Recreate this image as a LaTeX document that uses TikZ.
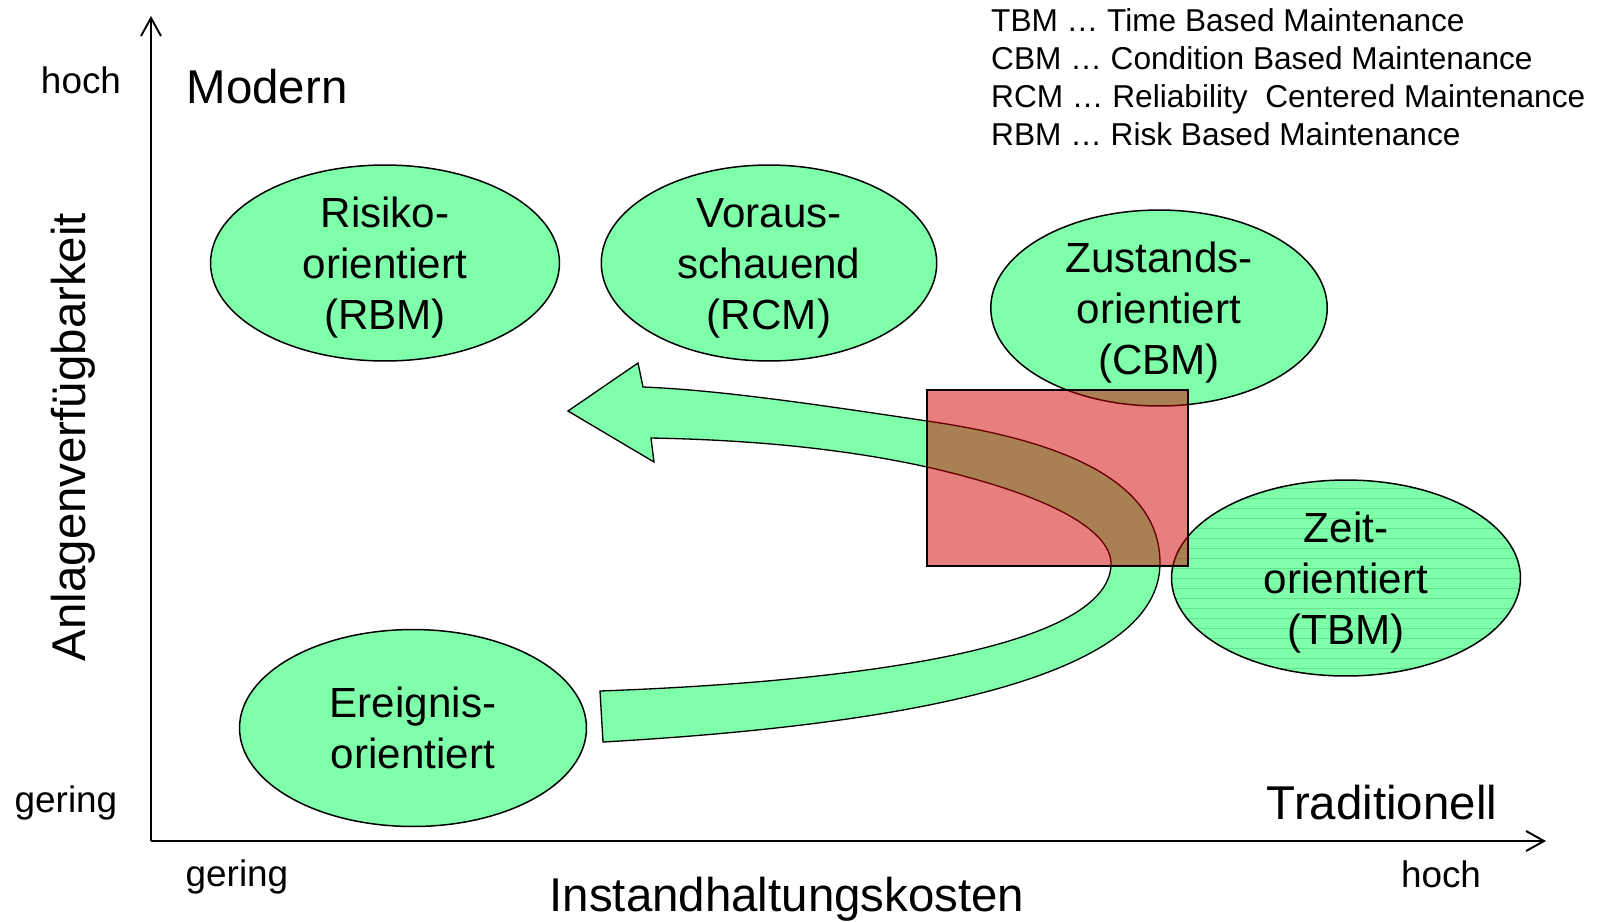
\documentclass[tikz,border=0pt]{standalone}
\usepackage{fontspec}
\setmainfont{Liberation Sans}
\usetikzlibrary{arrows.meta,positioning,shapes.geometric}
\definecolor{mint}{HTML}{80FFAA}
\definecolor{mintd}{HTML}{5EE68C}
\definecolor{alarm}{HTML}{D20000}
\tikzset{
  ell/.style={ellipse,draw=black,line width=0.85pt,fill=mint,inner sep=0pt,minimum height=3.92cm},
  etxt/.style={align=center,font=\fontsize{24}{29}\selectfont},
  etxtlow/.style={etxt,yshift=-0.1cm},
  big/.style={font=\fontsize{27}{32}\selectfont,anchor=base},
  tick/.style={font=\fontsize{21}{25}\selectfont,anchor=base},
  leg/.style={font=\fontsize{18}{22}\selectfont,anchor=base west},
  axis/.style={line width=1.1pt,-{Straight Barb[length=3.6mm,width=4mm,line width=1.1pt]}},
  zone/.style={draw=black,line width=1pt,fill=alarm,fill opacity=0.5},
  flow/.style={draw=black,line width=0.75pt,fill=mint},
  stripes/.style={path picture={
    \foreach \k in {-10,...,10}
      \draw[mintd,line width=0.5pt] ([yshift=\k*2mm]path picture bounding box.west) -- ([yshift=\k*2mm]path picture bounding box.east);}},
}

\begin{document}
\begin{tikzpicture}[x=0.02cm,y=-0.02cm]
  \useasboundingbox (0,0) rectangle (1599,921);
  % axes
  \coordinate (o) at (151,841);
  \coordinate (ytop) at (151,16);
  \coordinate (xend) at (1546,841);
  \draw[axis] (o) -- (ytop);
  \draw[axis] (o) -- (xend);
  \node[tick] (yhi) at (81,93) {hoch};
  \node[tick] (ylo) at (66,812) {gering};
  \node[tick] (xlo) at (237,886) {gering};
  \node[tick] (xhi) at (1441,887) {hoch};
  \node[big] (modern) at (267,103) {Modern};
  \node[big] (trad) at (1382,819) {Traditionell};
  \node[big] (xlab) at (787,911) {Instandhaltungskosten};
  \node[big,rotate=90] (ylab) at (85,437) {Anlagenverfügbarkeit};
  % legend
  \foreach \t [count=\i from 0] in {TBM … Time Based Maintenance,CBM … Condition Based Maintenance,RCM … Reliability\ \ Centered Maintenance,RBM … Risk Based Maintenance}
    \node[leg] (leg\i) at (985,{31+38.3*\i}) {\t};
  % strategies
  \node[ell,minimum width=6.98cm] (rbm) at (385,263) {};
  \node[etxtlow] (rbmt) at (rbm) {Risiko-\\orientiert\\(RBM)};
  \node[ell,minimum width=6.71cm] (rcm) at (769,263) {};
  \node[etxtlow] (rcmt) at (rcm) {Voraus-\\schauend\\(RCM)};
  \node[ell,minimum width=6.73cm] (cbm) at (1159,308) {};
  \node[etxtlow] (cbmt) at (cbm) {Zustands-\\orientiert\\(CBM)};
  \node[ell,stripes,minimum width=6.98cm] (tbm) at (1346,578) {};
  \node[etxtlow] (tbmt) at (tbm) {Zeit-\\orientiert\\(TBM)};
  \node[ell,minimum width=6.94cm,minimum height=3.94cm] (ereig) at (413,728) {};
  \node[etxt] (ereigt) at (ereig) {Ereignis-\\orientiert};
  % big arrow
  \draw[flow] (600,691) -- (603,742)
    .. controls (900,725) and (1160,680) .. (1160,563)
    .. controls (1160,480) and (1060,440) .. (927,421)
    .. controls (820,405) and (720,390) .. (643,387)
    -- (638,363) -- (568,411) -- (654,462) -- (651,438)
    .. controls (760,440) and (850,450) .. (927,467)
    .. controls (1050,495) and (1110,530) .. (1111,563)
    .. controls (1112,640) and (900,680) .. (600,691) -- cycle;
  % critical zone
  \draw[zone] (927,390) rectangle (1188,566);
\end{tikzpicture}
\end{document}
